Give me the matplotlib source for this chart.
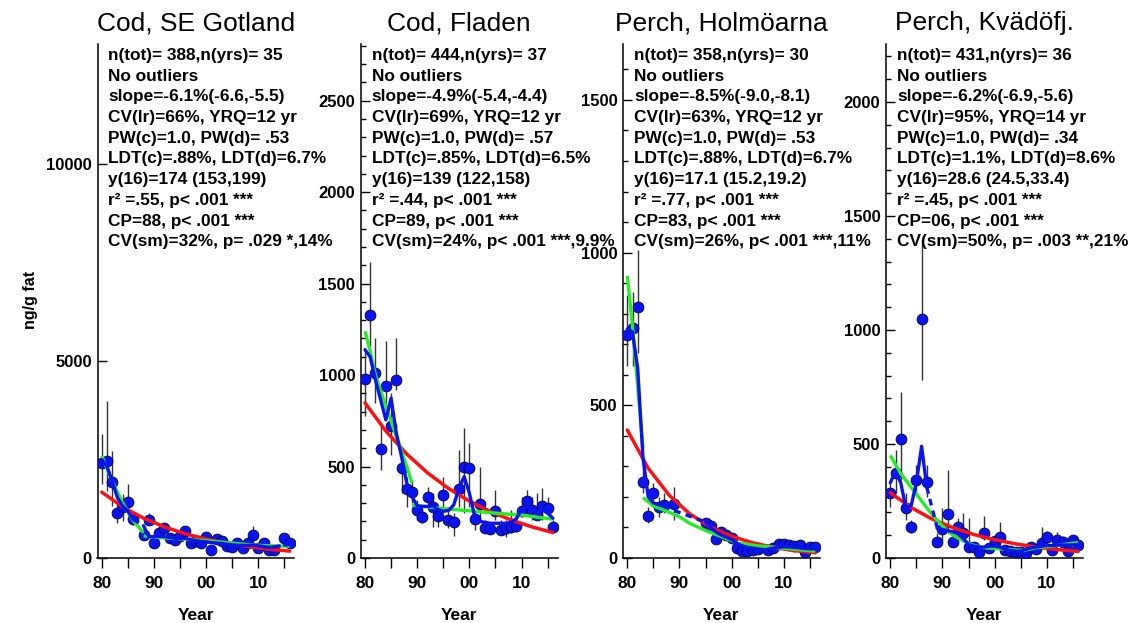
import matplotlib
matplotlib.use("Agg")
import matplotlib.pyplot as plt
from matplotlib.ticker import FixedLocator, MultipleLocator, NullLocator, FixedFormatter

plt.rcParams['font.family'] = ['Liberation Sans', 'DejaVu Sans']

# ---------------- data ----------------
titles = ["Cod, SE Gotland", "Cod, Fladen", "Perch, Holmöarna", "Perch, Kvädöfj."]

stats = [
    ["n(tot)= 388,n(yrs)= 35", "No outliers", "slope=-6.1%(-6.6,-5.5)", "CV(lr)=66%, YRQ=12 yr",
     "PW(c)=1.0, PW(d)= .53", "LDT(c)=.88%, LDT(d)=6.7%", "y(16)=174 (153,199)",
     "r² =.55, p< .001 ***", "CP=88, p< .001 ***", "CV(sm)=32%, p= .029 *,14%"],
    ["n(tot)= 444,n(yrs)= 37", "No outliers", "slope=-4.9%(-5.4,-4.4)", "CV(lr)=69%, YRQ=12 yr",
     "PW(c)=1.0, PW(d)= .57", "LDT(c)=.85%, LDT(d)=6.5%", "y(16)=139 (122,158)",
     "r² =.44, p< .001 ***", "CP=89, p< .001 ***", "CV(sm)=24%, p< .001 ***,9.9%"],
    ["n(tot)= 358,n(yrs)= 30", "No outliers", "slope=-8.5%(-9.0,-8.1)", "CV(lr)=63%, YRQ=12 yr",
     "PW(c)=1.0, PW(d)= .53", "LDT(c)=.88%, LDT(d)=6.7%", "y(16)=17.1 (15.2,19.2)",
     "r² =.77, p< .001 ***", "CP=83, p< .001 ***", "CV(sm)=26%, p< .001 ***,11%"],
    ["n(tot)= 431,n(yrs)= 36", "No outliers", "slope=-6.2%(-6.9,-5.6)", "CV(lr)=95%, YRQ=14 yr",
     "PW(c)=1.0, PW(d)= .34", "LDT(c)=1.1%, LDT(d)=8.6%", "y(16)=28.6 (24.5,33.4)",
     "r² =.45, p< .001 ***", "CP=06, p< .001 ***", "CV(sm)=50%, p= .003 **,21%"],
]

x_ticks = [1980, 1985, 1990, 1995, 2000, 2005, 2010, 2015]
x_ticklabels = ["80", "", "90", "", "00", "", "10", ""]

# Panel 1: Cod, SE Gotland
p1_years = [1980, 1981, 1982, 1983, 1984, 1985, 1986, 1988, 1989, 1990, 1991, 1992, 1993, 1994,
            1995, 1996, 1997, 1998, 1999, 2000, 2001, 2002, 2003, 2004, 2005, 2006, 2007, 2008,
            2009, 2010, 2011, 2012, 2013, 2015, 2016]
p1_vals = [2420, 2460, 1920, 1130, 1300, 1420, 1000, 580, 970, 390, 640, 750, 510, 460, 550, 680,
           380, 430, 380, 530, 215, 480, 430, 300, 285, 370, 260, 370, 580, 260, 370, 200, 200, 510, 390]
p1_lo = [1870, 1700, 1320, 900, 940, 1150, 850, 500, 830, 320, 560, 650, 440, 400, 480, 590, 330,
         370, 330, 450, 180, 410, 370, 260, 240, 320, 220, 320, 470, 220, 320, 170, 170, 430, 330]
p1_hi = [3150, 3990, 2720, 1400, 1620, 1870, 1200, 680, 1150, 470, 740, 880, 600, 540, 650, 800,
         450, 510, 450, 640, 260, 570, 510, 350, 340, 430, 310, 430, 800, 310, 440, 240, 240, 620, 470]
p1_blue = [2500, 2330, 1950, 1530, 1320, 1190, 980, 820, 540, 545, 550, 540, 520, 500, 500, 500,
           470, 440, 420, 410, 390, 380, 370, 350, 335, 325, 320, 320, 330, 310, 290, 270, 280, 330, 340]
red_years = [1980, 1984, 1988, 1992, 1996, 2000, 2004, 2008, 2012, 2016]
p1_red = [1670, 1300, 1010, 790, 615, 480, 375, 290, 225, 174]
p1_g1_years = [1980, 1982, 1984, 1986, 1988]
p1_g1_vals = [2590, 1950, 1400, 950, 640]
p1_g2_years = [1988, 1992, 1996, 2000, 2004, 2008, 2012, 2016]
p1_g2_vals = [560, 510, 480, 440, 390, 340, 310, 300]

# Panel 2: Cod, Fladen
p2_years = list(range(1980, 2017))
p2_vals = [980, 1330, 1010, 595, 938, 724, 974, 491, 378, 360, 263, 223, 336, 281, 232, 345, 208,
           195, 376, 500, 491, 213, 294, 162, 159, 259, 153, 162, 168, 175, 259, 312, 263, 235, 285, 276, 168]
p2_lo = [774, 1157, 847, 482, 774, 564, 920, 354, 281, 299, 208, 190, 281, 172, 172, 254, 162, 120,
         281, 245, 281, 153, 208, 135, 135, 208, 126, 117, 135, 140, 226, 245, 208, 208, 208, 245, 135]
p2_hi = [1139, 1620, 1203, 737, 1184, 901, 1203, 609, 445, 427, 318, 254, 390, 354, 245, 445, 263,
         245, 588, 710, 628, 263, 500, 208, 199, 372, 208, 208, 263, 245, 336, 372, 336, 354, 381, 336, 208]
p2_blue = [1139, 1099, 974, 865, 755, 874, 682, 555, 409, 336, 285, 282, 282, 285, 265, 255, 260,
           290, 380, 445, 354, 230, 200, 195, 190, 190, 190, 190, 195, 215, 265, 280, 260, 250, 265, 245, 217]
p2_red = [848, 694, 568, 465, 380, 311, 254, 208, 170, 139]
p2_g1_years = [1980, 1981, 1982, 1984, 1986, 1988, 1989]
p2_g1_vals = [1240, 1130, 1000, 830, 665, 500, 410]
p2_g2_years = [1989, 1995, 2000, 2005, 2010, 2016]
p2_g2_vals = [290, 270, 258, 245, 235, 212]

# Panel 3: Perch, Holmöarna
p3_years = [1980, 1981, 1982, 1983, 1984, 1985, 1986, 1987, 1989, 1995, 1996, 1997, 1998, 1999,
            2000, 2001, 2002, 2003, 2004, 2005, 2007, 2008, 2009, 2010, 2011, 2012, 2013, 2014, 2015, 2016]
p3_vals = [730, 754, 823, 250, 139, 212, 168, 174, 176, 113, 105, 61, 86, 75, 64, 32, 24, 22, 26, 28,
           26, 32, 46, 46, 43, 40, 43, 21, 35, 35]
p3_lo = [630, 630, 670, 212, 114, 168, 135, 146, 124, 95, 90, 52, 75, 65, 55, 27, 20, 18, 22, 24,
         22, 27, 40, 40, 37, 34, 37, 17, 30, 30]
p3_hi = [860, 870, 1009, 310, 168, 245, 201, 212, 234, 130, 125, 72, 100, 88, 75, 38, 29, 27, 31, 33,
         31, 38, 53, 53, 50, 47, 50, 26, 41, 41]
p3_blue = [750, 740, 620, 330, 200, 180, 175, 172, 155, 118, 100, 85, 75, 68, 60, 48, 40, 35, 32, 30,
           30, 32, 35, 37, 36, 35, 33, 31, 30, 30]
p3_red = [419, 294, 206, 144, 101, 71, 50, 35, 24, 17.1]
p3_g1_years = [1980, 1981, 1982, 1983]
p3_g1_vals = [924, 760, 560, 360]
p3_g2_years = [1983, 1985, 1988, 1990, 1992, 1995, 1998, 2001, 2005, 2010, 2016]
p3_g2_vals = [198, 170, 150, 135, 113, 90, 70, 50, 40, 32, 22]

# Panel 4: Perch, Kvädöfj.
p4_years = [1980, 1981, 1982, 1983, 1984, 1985, 1986, 1987, 1989, 1990, 1991, 1992, 1993, 1994,
            1995, 1996, 1997, 1998, 1999, 2000, 2001, 2002, 2003, 2004, 2005, 2006, 2007, 2008,
            2009, 2010, 2011, 2012, 2013, 2014, 2015, 2016]
p4_vals = [287, 371, 520, 218, 135, 342, 1047, 335, 72, 126, 192, 72, 135, 108, 50, 50, 28, 108,
           42, 76, 94, 35, 31, 28, 28, 20, 50, 38, 66, 94, 35, 79, 72, 32, 79, 57]
p4_lo = [225, 284, 342, 167, 108, 284, 780, 269, 50, 79, 108, 50, 94, 79, 28, 35, 20, 80,
         32, 60, 42, 28, 24, 22, 22, 15, 38, 30, 50, 70, 28, 60, 55, 25, 60, 45]
p4_hi = [327, 474, 730, 284, 167, 408, 1395, 408, 108, 218, 386, 115, 174, 196, 174, 70, 40, 184,
         55, 95, 159, 45, 40, 36, 36, 28, 70, 50, 137, 120, 45, 115, 95, 42, 100, 72]
p4_blue = [330, 380, 330, 220, 230, 330, 490, 310, 130, 125, 120, 115, 105, 85, 60, 52, 48, 48,
           52, 52, 48, 38, 33, 30, 30, 38, 45, 48, 52, 55, 55, 57, 57, 57, 58, 60]
p4_red = [286, 221, 171, 133, 103, 80, 62, 48, 37, 28.6]
p4_g1_years = [1980, 1982, 1984, 1986, 1988, 1990, 1992, 1994, 1996, 1998, 2000, 2002, 2004, 2006]
p4_g1_vals = [450, 370, 310, 250, 190, 140, 100, 75, 55, 45, 42, 38, 35, 33]
p4_g2_years = [2006, 2008, 2010, 2012, 2014, 2016]
p4_g2_vals = [35, 45, 50, 55, 62, 68]

panels = [
    dict(years=p1_years, vals=p1_vals, lo=p1_lo, hi=p1_hi, blue=p1_blue, red=p1_red,
         g1=(p1_g1_years, p1_g1_vals), g2=(p1_g2_years, p1_g2_vals),
         ymax=13050, major=[0, 5000, 10000], minor=None),
    dict(years=p2_years, vals=p2_vals, lo=p2_lo, hi=p2_hi, blue=p2_blue, red=p2_red,
         g1=(p2_g1_years, p2_g1_vals), g2=(p2_g2_years, p2_g2_vals),
         ymax=2810, major=[0, 500, 1000, 1500, 2000, 2500], minor=100),
    dict(years=p3_years, vals=p3_vals, lo=p3_lo, hi=p3_hi, blue=p3_blue, red=p3_red,
         g1=(p3_g1_years, p3_g1_vals), g2=(p3_g2_years, p3_g2_vals),
         ymax=1683, major=[0, 500, 1000, 1500], minor=100),
    dict(years=p4_years, vals=p4_vals, lo=p4_lo, hi=p4_hi, blue=p4_blue, red=p4_red,
         g1=(p4_g1_years, p4_g1_vals), g2=(p4_g2_years, p4_g2_vals),
         ymax=2254, major=[0, 500, 1000, 1500, 2000], minor=100),
]

# ---------------- styling ----------------
BLUE = "#0a14f0"
GREEN = "#22ee22"
RED = "#ff1010"
W, H = 1139.0, 623.0
ax_left_px = [97.5, 360.7, 623.0, 886.0]
ax_top_px, ax_bot_px, ax_w_px = 44.0, 558.0, 197.0
x_lo, x_hi = 1979.18, 2016.92

fig = plt.figure(figsize=(W / 100, H / 100), dpi=100)
fig.patch.set_facecolor("white")


def draw_blue(ax, yrs, vals):
    # solid runs between consecutive years; dashed across missing years
    run_x, run_y = [yrs[0]], [vals[0]]
    for i in range(1, len(yrs)):
        if yrs[i] - yrs[i - 1] == 1:
            run_x.append(yrs[i]); run_y.append(vals[i])
        else:
            if len(run_x) > 1:
                ax.plot(run_x, run_y, color=BLUE, lw=2.4, solid_capstyle="round",
                        solid_joinstyle="round", zorder=6)
            ax.plot([yrs[i - 1], yrs[i]], [vals[i - 1], vals[i]], color=BLUE, lw=2.4,
                    ls=(0, (2.0, 1.6)), zorder=6)
            run_x, run_y = [yrs[i]], [vals[i]]
    if len(run_x) > 1:
        ax.plot(run_x, run_y, color=BLUE, lw=2.4, solid_capstyle="round",
                solid_joinstyle="round", zorder=6)


for k, p in enumerate(panels):
    ax = fig.add_axes([ax_left_px[k] / W, 1 - ax_bot_px / H, ax_w_px / W,
                       (ax_bot_px - ax_top_px) / H])
    ax.set_xlim(x_lo, x_hi)
    ax.set_ylim(0, p["ymax"])
    for s in ("top", "right"):
        ax.spines[s].set_visible(False)
    for s in ("left", "bottom"):
        ax.spines[s].set_linewidth(1.1)
        ax.spines[s].set_color("black")

    # error bars
    ax.vlines(p["years"], p["lo"], p["hi"], color="#333333", lw=1.0, zorder=2)
    # points
    ax.plot(p["years"], p["vals"], "o", ms=7.8, mfc=BLUE, mec="#000050", mew=0.6, zorder=3,
            ls="none")
    # fitted lines
    ax.plot(red_years, p["red"], color=RED, lw=2.5, zorder=4, solid_capstyle="round")
    ax.plot(p["g1"][0], p["g1"][1], color=GREEN, lw=2.4, zorder=5, solid_capstyle="butt")
    ax.plot(p["g2"][0], p["g2"][1], color=GREEN, lw=2.4, zorder=5, solid_capstyle="butt")
    draw_blue(ax, p["years"], p["blue"])

    # ticks
    ax.xaxis.set_major_locator(FixedLocator(x_ticks))
    ax.xaxis.set_major_formatter(FixedFormatter(x_ticklabels))
    ax.yaxis.set_major_locator(FixedLocator(p["major"]))
    if p["minor"]:
        ax.yaxis.set_minor_locator(MultipleLocator(p["minor"]))
    else:
        ax.yaxis.set_minor_locator(NullLocator())
    ax.tick_params(axis="x", which="major", direction="out", length=7, width=1.0, pad=6,
                   labelsize=12.5)
    ax.tick_params(axis="y", which="major", direction="in", length=6.5, width=1.0, pad=4,
                   labelsize=12)
    ax.tick_params(axis="y", which="minor", direction="in", length=3.8, width=1.0)
    for lab in ax.get_xticklabels() + ax.get_yticklabels():
        lab.set_fontweight("bold")

    ax.set_title(titles[k], fontsize=19, pad=10)
    ax.set_xlabel("Year", fontsize=12.5, fontweight="bold", labelpad=12)

    # statistics text block
    for i, line in enumerate(stats[k]):
        fig.text((ax_left_px[k] + 11) / W, 1 - (60 + i * 20.7) / H, line, fontsize=12.4,
                 fontweight="bold", ha="left", va="baseline")

fig.text(30 / W, 1 - 300 / H, "ng/g fat", rotation=90, fontsize=11.5, fontweight="bold",
         ha="center", va="center")

fig.savefig("out.png", dpi=100, facecolor="white")
